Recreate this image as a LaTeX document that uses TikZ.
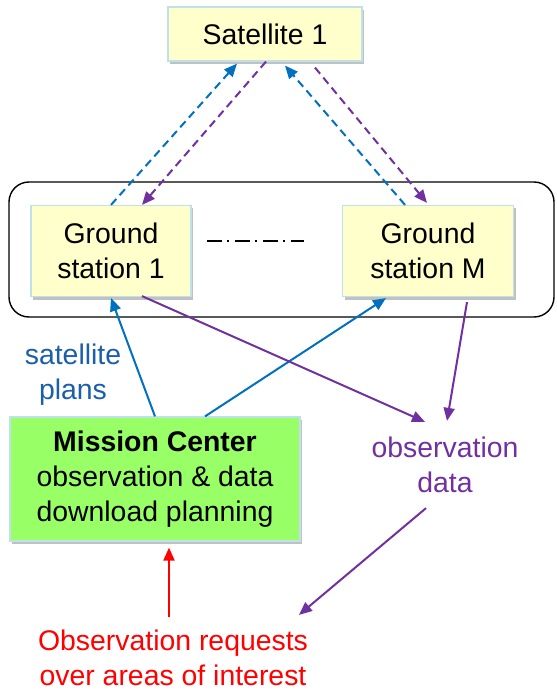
\documentclass[tikz,border=0pt]{standalone}
\usepackage{fontspec}
\setmainfont{Liberation Sans}
\usetikzlibrary{arrows.meta,shadows}
\definecolor{boxyellow}{RGB}{255,255,204}
\definecolor{boxgreen}{RGB}{153,255,102}
\definecolor{boxborder}{RGB}{190,225,235}
\definecolor{arrblue}{RGB}{0,112,192}
\definecolor{txtblue}{RGB}{25,95,170}
\definecolor{arrpurple}{RGB}{112,48,160}
\definecolor{arrred}{RGB}{255,0,0}
\tikzset{
  bigfont/.style={font=\fontsize{28.4}{35}\selectfont},
  ybox/.style={draw=boxborder, line width=1.2pt, fill=boxyellow, bigfont, align=center, inner sep=0pt,
    drop shadow={shadow xshift=2pt, shadow yshift=-3pt, opacity=0.35, fill=black!70}},
  gbox/.style={ybox, fill=boxgreen},
  lbl/.style={bigfont, align=center, inner sep=0pt},
  conn/.style={line width=2pt, -{Triangle[length=13pt,width=11pt]}},
  dconn/.style={conn, dash pattern=on 8pt off 5pt},
}
\begin{document}
\begin{tikzpicture}[x=1pt,y=-1pt]
\useasboundingbox (0,0) rectangle (556,692);
% container
\draw[line width=1.4pt, rounded corners=20pt] (9,182) rectangle (554,317);
% nodes
\node[ybox, minimum width=194pt, minimum height=54pt] (sat) at (265,34) {Satellite 1};
\node[ybox, minimum width=160pt, minimum height=91pt] (gs1) at (111,251) {Ground\\station 1};
\node[ybox, minimum width=171pt, minimum height=91pt] (gsm) at (428,251) {Ground\\station M};
\node[gbox, minimum width=290pt, minimum height=124pt] (mc) at (155,479) {\textbf{Mission Center}\\observation \& data\\download planning};
\node[lbl, text=txtblue] (plans) at (73,375) {satellite\\plans};
\node[lbl, text=arrpurple] (obs) at (445,465) {observation\\data};
\node[lbl, text=arrred] (req) at (173,658) {Observation requests\\over areas of interest};
% dash-dot between stations
\draw[line width=1.2pt, dash pattern=on 15pt off 5pt on 2pt off 6pt] ([xshift=15pt,yshift=10pt]gs1.east) -- ([xshift=-38pt,yshift=10pt]gsm.west);
% dashed links
\draw[dconn, arrblue] (gs1.north) -- ([xshift=-28pt,yshift=-2pt]sat.south);
\draw[dconn, arrpurple] ([xshift=1pt]sat.south) -- ([xshift=31pt]gs1.north);
\draw[dconn, arrblue] ([xshift=-23pt]gsm.north) -- ([xshift=20pt,yshift=-4pt]sat.south);
\draw[dconn, arrpurple] ([xshift=50pt,yshift=-6pt]sat.south) -- ([xshift=-1pt,yshift=2pt]gsm.north);
% plans
\draw[conn, arrblue] (mc.north) -- ([yshift=-1pt]gs1.south);
\draw[conn, arrblue] ([xshift=50pt]mc.north) -- ([xshift=-42pt,yshift=-1pt]gsm.south);
% data
\draw[conn, arrpurple] ([xshift=31pt,yshift=1pt]gs1.south) -- ([xshift=-20pt,yshift=15pt]obs.north);
\draw[conn, arrpurple] ([xshift=39pt,yshift=-5pt]gsm.south) -- ([xshift=2pt,yshift=16pt]obs.north);
\draw[conn, arrpurple] ([xshift=-19pt,yshift=-15pt]obs.south) -- ([xshift=126pt,yshift=15pt]req.north);
% requests
\draw[conn, arrred] ([xshift=-4pt,yshift=13pt]req.north) -- ([xshift=14pt,yshift=-6pt]mc.south);
\end{tikzpicture}
\end{document}
